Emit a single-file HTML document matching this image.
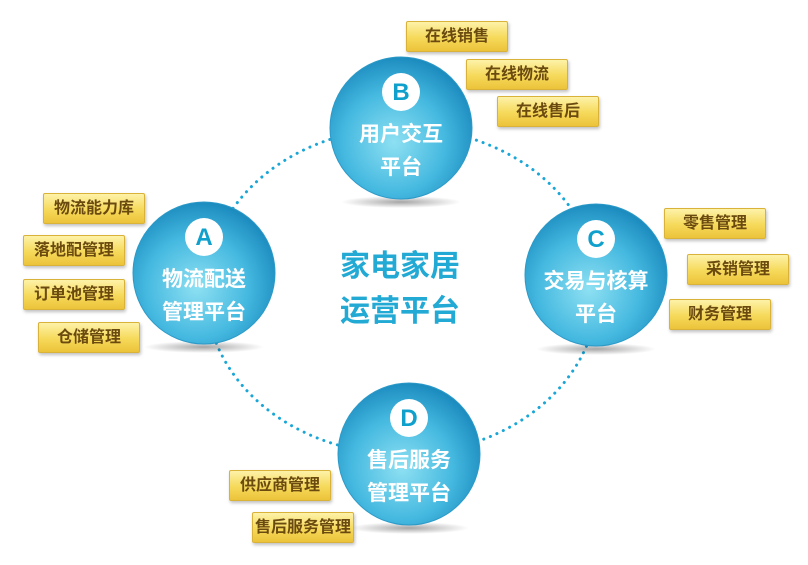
<!DOCTYPE html>
<html><head><meta charset="utf-8"><style>
html,body{margin:0;padding:0;background:#fff;}
body{width:808px;height:565px;position:relative;overflow:hidden;font-family:"Liberation Sans","Noto Sans CJK SC",sans-serif;}
.lb{position:absolute;width:100px;height:29px;border:1px solid #d9b23a;border-radius:2px;background:linear-gradient(#fdf2a8,#f6d95a 55%,#ecc33a);box-shadow:1px 2px 3px rgba(0,0,0,.25);color:#6b4a10;font-size:16px;font-weight:bold;line-height:29px;text-align:center;}
.ct{position:absolute;left:0;top:0;width:808px;height:565px;}
</style></head><body>
<svg class="ct" width="808" height="565" viewBox="0 0 808 565">
<defs>
<radialGradient id="g" cx="0.45" cy="0.6" r="0.6">
<stop offset="0" stop-color="#8ee0f2"/><stop offset="0.6" stop-color="#45b9e0"/><stop offset="1" stop-color="#1c8cbf"/>
</radialGradient>
<radialGradient id="sh" cx="0.5" cy="0.5" r="0.5"><stop offset="0" stop-color="#000" stop-opacity=".35"/><stop offset="1" stop-color="#000" stop-opacity="0"/></radialGradient>
</defs>
<ellipse cx="402" cy="291" rx="196" ry="163" fill="none" stroke="#1aa6d6" stroke-width="3" stroke-dasharray="0.1 7" stroke-linecap="round"/>
<g font-family="Liberation Sans,Noto Sans CJK SC,sans-serif" font-weight="bold">
<g>
<ellipse cx="401" cy="202" rx="60" ry="6" fill="url(#sh)"/>
<circle cx="401" cy="128" r="71" fill="url(#g)" stroke="#2c9ac8" stroke-width="1"/>
<circle cx="401" cy="92" r="19" fill="#fff"/>
<text x="401" y="100" text-anchor="middle" font-size="24" fill="#0fa0cc">B</text>
<text x="401" y="141" text-anchor="middle" font-size="21" fill="#fff">用户交互</text>
<text x="401" y="174" text-anchor="middle" font-size="21" fill="#fff">平台</text>
</g>
<g>
<ellipse cx="204" cy="347" rx="60" ry="6" fill="url(#sh)"/>
<circle cx="204" cy="273" r="71" fill="url(#g)" stroke="#2c9ac8" stroke-width="1"/>
<circle cx="204" cy="237" r="19" fill="#fff"/>
<text x="204" y="245" text-anchor="middle" font-size="24" fill="#0fa0cc">A</text>
<text x="204" y="286" text-anchor="middle" font-size="21" fill="#fff">物流配送</text>
<text x="204" y="319" text-anchor="middle" font-size="21" fill="#fff">管理平台</text>
</g>
<g>
<ellipse cx="596" cy="349" rx="60" ry="6" fill="url(#sh)"/>
<circle cx="596" cy="275" r="71" fill="url(#g)" stroke="#2c9ac8" stroke-width="1"/>
<circle cx="596" cy="239" r="19" fill="#fff"/>
<text x="596" y="247" text-anchor="middle" font-size="24" fill="#0fa0cc">C</text>
<text x="596" y="288" text-anchor="middle" font-size="21" fill="#fff">交易与核算</text>
<text x="596" y="321" text-anchor="middle" font-size="21" fill="#fff">平台</text>
</g>
<g>
<ellipse cx="409" cy="528" rx="60" ry="6" fill="url(#sh)"/>
<circle cx="409" cy="454" r="71" fill="url(#g)" stroke="#2c9ac8" stroke-width="1"/>
<circle cx="409" cy="418" r="19" fill="#fff"/>
<text x="409" y="426" text-anchor="middle" font-size="24" fill="#0fa0cc">D</text>
<text x="409" y="467" text-anchor="middle" font-size="21" fill="#fff">售后服务</text>
<text x="409" y="500" text-anchor="middle" font-size="21" fill="#fff">管理平台</text>
</g>
<text x="400" y="276" text-anchor="middle" font-size="30" fill="#22a9d4">家电家居</text>
<text x="400" y="321" text-anchor="middle" font-size="30" fill="#22a9d4">运营平台</text>
</g>
</svg>
<div class="lb" style="left:406px;top:21px">在线销售</div>
<div class="lb" style="left:466px;top:59px">在线物流</div>
<div class="lb" style="left:497px;top:96px">在线售后</div>
<div class="lb" style="left:43px;top:193px">物流能力库</div>
<div class="lb" style="left:23px;top:235px">落地配管理</div>
<div class="lb" style="left:23px;top:279px">订单池管理</div>
<div class="lb" style="left:38px;top:322px">仓储管理</div>
<div class="lb" style="left:664px;top:208px">零售管理</div>
<div class="lb" style="left:687px;top:254px">采销管理</div>
<div class="lb" style="left:669px;top:299px">财务管理</div>
<div class="lb" style="left:229px;top:470px">供应商管理</div>
<div class="lb" style="left:252px;top:512px">售后服务管理</div>
</body></html>
